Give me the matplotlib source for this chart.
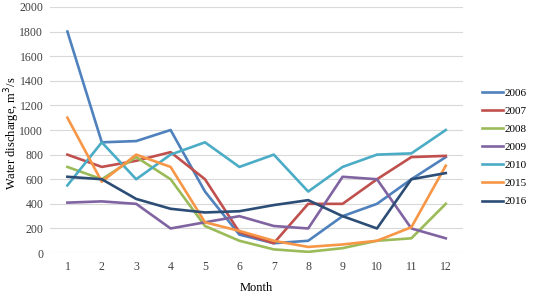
import numpy as np
import matplotlib
matplotlib.use('Agg')
from matplotlib import pyplot as plt

months = np.arange(1, 13)

y2006 = [1800, 900, 910, 1000, 500, 150, 80, 100, 300, 400, 600, 780]
y2007 = [800, 700, 750, 820, 600, 170, 80, 400, 400, 600, 780, 790]
y2008 = [700, 600, 780, 600, 220, 100, 30, 10, 40, 100, 120, 400]
y2009 = [410, 420, 400, 200, 250, 300, 220, 200, 620, 600, 200, 120]
y2010 = [550, 900, 600, 800, 900, 700, 800, 500, 700, 800, 810, 1000]
y2015 = [1100, 580, 800, 700, 250, 180, 100, 50, 70, 100, 210, 710]
y2016 = [620, 600, 440, 360, 330, 340, 390, 430, 300, 200, 600, 650]

series = [('2006', y2006, '#4F81BD'),
          ('2007', y2007, '#C0504D'),
          ('2008', y2008, '#9BBB59'),
          ('2009', y2009, '#8064A2'),
          ('2010', y2010, '#4BACC6'),
          ('2015', y2015, '#F79646'),
          ('2016', y2016, '#2C4D75')]

plt.rcParams['font.family'] = ['Liberation Serif', 'DejaVu Serif']

fig = plt.figure(figsize=(5.34, 3.02), dpi=100)
ax = fig.add_axes([0.094, 0.162, 0.773, 0.815])

for name, vals, col in series:
    ax.plot(months, vals, color=col, lw=1.9, label=name)

ax.set_xlim(0.5, 12.5)
ax.set_ylim(0, 2000)
ax.set_xticks(months)
ax.set_yticks(np.arange(0, 2001, 200))
ax.grid(axis='y', color='#D9D9D9', lw=0.8)
ax.set_axisbelow(True)
for s in ax.spines.values():
    s.set_visible(False)
ax.tick_params(length=0, labelsize=8.5, colors='#404040')
ax.tick_params(axis='y', pad=5)
ax.tick_params(axis='x', pad=6)

ax.set_xlabel('Month', fontsize=9, labelpad=6)
fig.text(0.022, 0.56, 'Water discharge, m$^3$/s', fontsize=9,
         rotation=90, ha='center', va='center')

ax.legend(loc='center left', bbox_to_anchor=(1.04, 0.43), frameon=False,
          fontsize=8, handlelength=1.9, handletextpad=0.15, labelspacing=0.75,
          borderaxespad=0, borderpad=0.2)

fig.savefig('out.png', dpi=100)
